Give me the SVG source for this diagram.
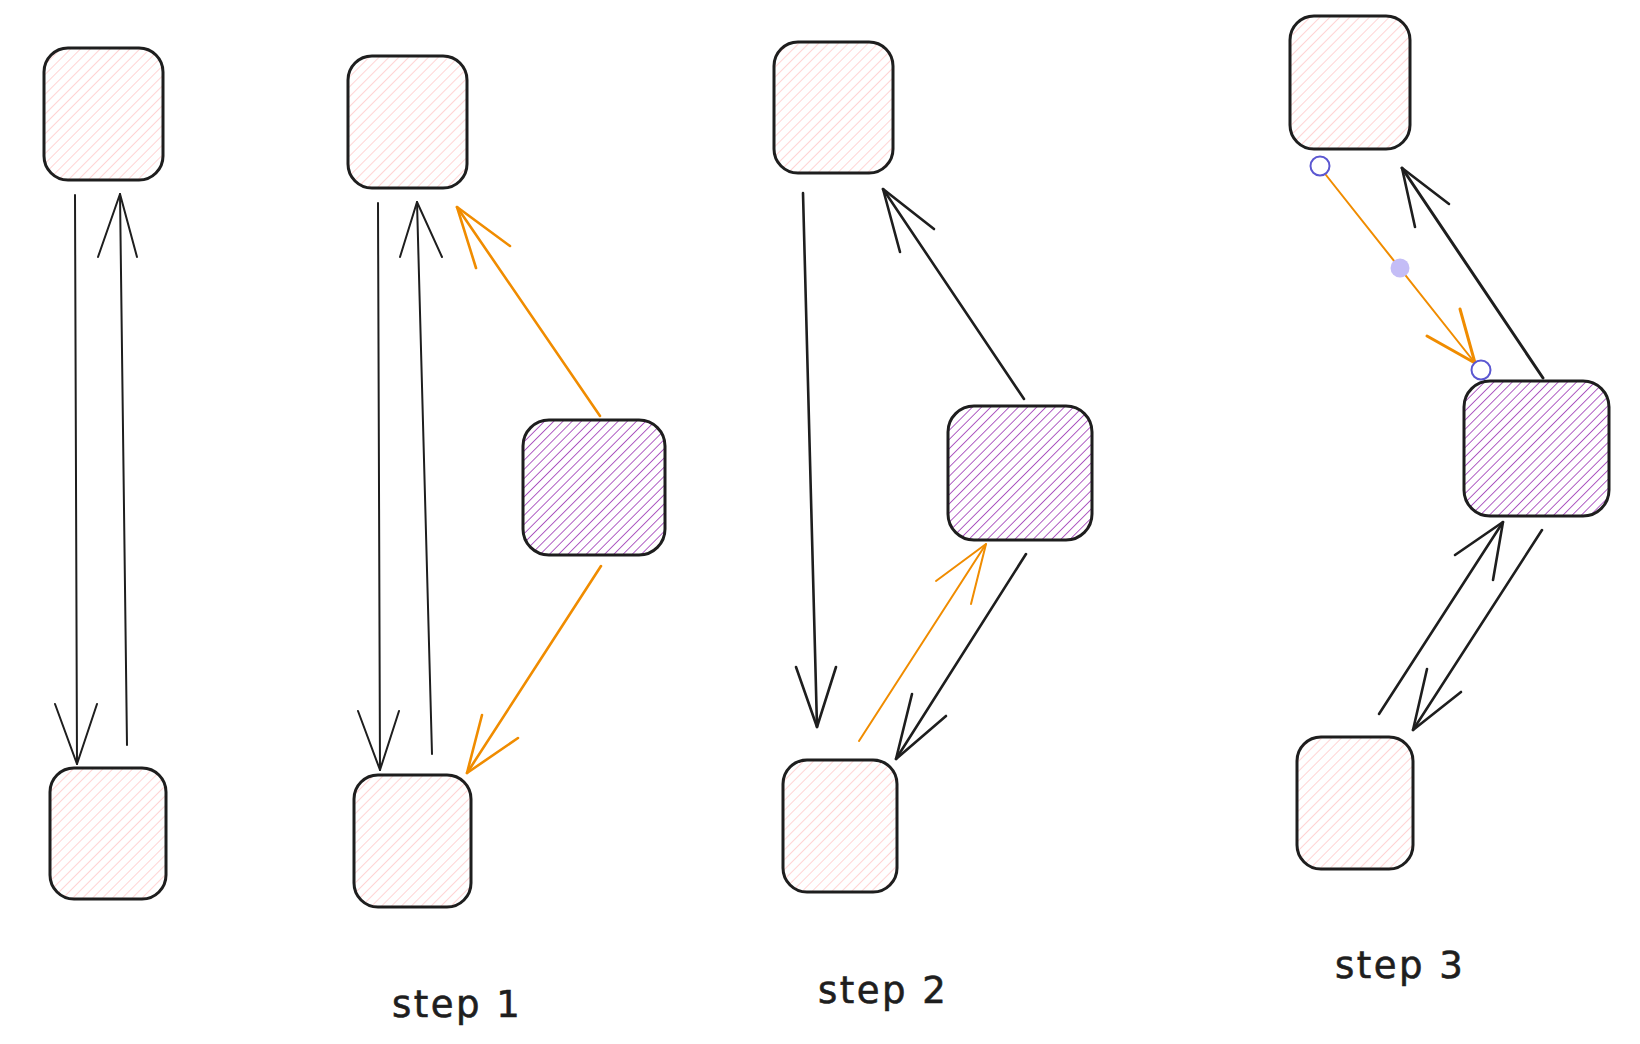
<svg xmlns="http://www.w3.org/2000/svg" width="1640" height="1044" viewBox="0 0 1640 1044">
  <style>
    .box { stroke: #1e1e1e; stroke-width: 3; stroke-linejoin: round; }
    .pink { fill: url(#hatchPink); }
    .purple { fill: url(#hatchPurple); }
    .blk { fill: none; stroke: #1e1e1e; stroke-width: 2.6; stroke-linecap: round; stroke-linejoin: round; }
    .thin { fill: none; stroke: #1e1e1e; stroke-width: 2; stroke-linecap: round; stroke-linejoin: round; }
    .org { fill: none; stroke: #f08c00; stroke-width: 2.6; stroke-linecap: round; stroke-linejoin: round; }
    .orgThin { fill: none; stroke: #f08c00; stroke-width: 2; stroke-linecap: round; stroke-linejoin: round; }
    .handle { fill: #ffffff; stroke: #5b57d1; stroke-width: 2; }
    .mid { fill: #c4bdf6; stroke: none; }
    .label { font-family: "DejaVu Sans", "Noto Sans", sans-serif; font-size: 37px; fill: #1e1e1e; stroke: #1e1e1e; stroke-width: 0.6; letter-spacing: 2.5px; }
  </style>
  <defs>
    <pattern id="hatchPink" patternUnits="userSpaceOnUse" width="7" height="7" patternTransform="rotate(45)">
      <rect width="7" height="7" fill="#ffffff"/>
      <line x1="0" y1="0" x2="0" y2="7" stroke="#ffb8b8" stroke-width="1.2"/>
    </pattern>
    <pattern id="hatchPurple" patternUnits="userSpaceOnUse" width="6.5" height="6.5" patternTransform="rotate(45)">
      <rect width="6.5" height="6.5" fill="#ffffff"/>
      <line x1="0" y1="0" x2="0" y2="6.5" stroke="#9c36b5" stroke-width="1.6"/>
    </pattern>
  </defs>
  <rect width="1640" height="1044" fill="#ffffff"/>

  <!-- Column A -->
  <g id="a-top"><rect class="box pink" x="44" y="48" width="119" height="132" rx="24"/></g>
  <g id="a-bottom"><rect class="box pink" x="50" y="768" width="116" height="131" rx="24"/></g>

  <!-- Step 1 -->
  <g id="s1-top"><rect class="box pink" x="348" y="56" width="119" height="132" rx="24"/></g>
  <g id="s1-bottom"><rect class="box pink" x="354" y="775" width="117" height="132" rx="24"/></g>
  <g id="s1-purple"><rect class="box purple" x="523" y="420" width="142" height="135" rx="26"/></g>

  <!-- Step 2 -->
  <g id="s2-top"><rect class="box pink" x="774" y="42" width="119" height="131" rx="24"/></g>
  <g id="s2-bottom"><rect class="box pink" x="783" y="760" width="114" height="132" rx="24"/></g>
  <g id="s2-purple"><rect class="box purple" x="948" y="406" width="144" height="134" rx="26"/></g>

  <!-- Step 3 -->
  <g id="s3-top"><rect class="box pink" x="1290" y="16" width="120" height="133" rx="24"/></g>
  <g id="s3-bottom"><rect class="box pink" x="1297" y="737" width="116" height="132" rx="24"/></g>
  <g id="s3-purple"><rect class="box purple" x="1464" y="381" width="145" height="135" rx="26"/></g>

  <g id="connectors">
    <!-- Column A -->
    <path class="thin" d="M75,195 L77,764"/>
    <path class="thin" d="M55,704 L77,764 L97,704"/>
    <path class="thin" d="M127,745 L120,194"/>
    <path class="thin" d="M98,257 L120,194 L137,257"/>

    <!-- Step 1 -->
    <path class="thin" d="M378,203 L380,770"/>
    <path class="thin" d="M358,711 L380,770 L399,711"/>
    <path class="thin" d="M432,754 L417,202"/>
    <path class="thin" d="M400,257 L417,202 L442,257"/>
    <path class="org" d="M600,416 L457,207"/>
    <path class="org" d="M476,268 L457,207 L510,246"/>
    <path class="org" d="M601,566 L467,773"/>
    <path class="org" d="M482,715 L467,773 L518,738"/>

    <!-- Step 2 -->
    <path class="blk" d="M803,193 L817,727"/>
    <path class="blk" d="M796,667 L817,727 L836,667"/>
    <path class="blk" d="M1024,399 L883,189"/>
    <path class="blk" d="M900,252 L883,189 L934,229"/>
    <path class="orgThin" d="M859,741 L986,544"/>
    <path class="orgThin" d="M936,581 L986,544 L971,604"/>
    <path class="blk" d="M1026,554 L896,759"/>
    <path class="blk" d="M912,694 L896,759 L946,716"/>

    <!-- Step 3 -->
    <path class="blk" d="M1543,378 L1402,168" style="stroke-width:3"/>
    <path class="blk" d="M1415,227 L1402,168 L1449,204"/>
    <path class="orgThin" d="M1322,170 L1475,363"/>
    <path class="org" d="M1460,309 L1475,363 L1427,336" style="stroke-width:3"/>
    <path class="blk" d="M1379,714 L1503,522"/>
    <path class="blk" d="M1455,555 L1503,522 L1493,580"/>
    <path class="blk" d="M1542,530 L1413,730"/>
    <path class="blk" d="M1427,669 L1413,730 L1461,692"/>
    <circle class="handle" cx="1320" cy="166" r="9.5"/>
    <circle class="mid" cx="1400" cy="268" r="9.5"/>
    <circle class="handle" cx="1481" cy="370" r="9.5"/>
  </g>

  <g id="labels">
    <text class="label" x="392" y="1017">step 1</text>
    <text class="label" x="818" y="1003">step 2</text>
    <text class="label" x="1335" y="978">step 3</text>
  </g>
</svg>
